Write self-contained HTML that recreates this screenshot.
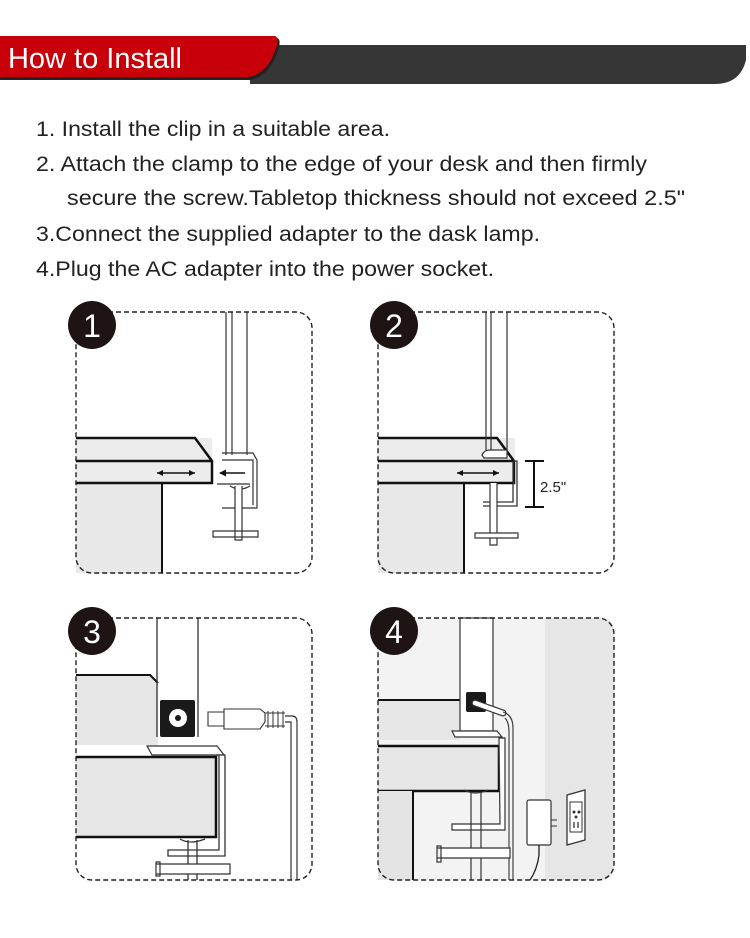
<!DOCTYPE html>
<html><head><meta charset="utf-8"><style>
html,body{margin:0;padding:0;background:#fff;width:750px;height:938px;overflow:hidden}
svg{display:block}
</style></head><body>
<svg width="750" height="938" viewBox="0 0 750 938" xmlns="http://www.w3.org/2000/svg" font-family="Liberation Sans, Arial, sans-serif">
<!-- header -->
<path d="M250 45 H746 V60 Q740 84 715 84 H250 Z" fill="#363636"/>
<path d="M0 38 H276 Q282 38 278 50 Q270 76 250 80 H0 Z" fill="#222"/>
<path d="M0 36 H274 Q280 36 276 48 Q268 74 248 77 H0 Z" fill="#c8000a"/>
<text x="8" y="68" font-size="29" fill="#fff" textLength="174" lengthAdjust="spacingAndGlyphs">How to Install</text>
<!-- instructions -->
<g font-size="21" fill="#222">
<text x="36" y="136" textLength="354" lengthAdjust="spacingAndGlyphs">1. Install the clip in a suitable area.</text>
<text x="36" y="171" textLength="611" lengthAdjust="spacingAndGlyphs">2. Attach the clamp to the edge of your desk and then firmly</text>
<text x="67" y="205" textLength="618" lengthAdjust="spacingAndGlyphs">secure the screw.Tabletop thickness should not exceed 2.5"</text>
<text x="36" y="241" textLength="504" lengthAdjust="spacingAndGlyphs">3.Connect the supplied adapter to the dask lamp.</text>
<text x="36" y="276" textLength="458" lengthAdjust="spacingAndGlyphs">4.Plug the AC adapter into the power socket.</text>
</g>

<!-- panel 1 -->
<g>
<rect x="76" y="438" width="136" height="45" fill="#ececec"/>
<rect x="76" y="483" width="86" height="90" fill="#e8e8e8"/>
<path d="M76 438 H195 L212 461 V483 H76 M76 461 H212" fill="none" stroke="#111" stroke-width="2.5"/>
<line x1="162" y1="483" x2="162" y2="573" stroke="#111" stroke-width="2"/>
<path d="M226 312 V455 M247 312 V455 M232 312 V455" stroke="#333" stroke-width="1.2" fill="none"/>
<path d="M222 453 H253 L257 460 V508 H222 M222 460 H253 V505" stroke="#333" stroke-width="1.2" fill="none"/>
<path d="M217 484 H250 M230 486 Q240 492 250 486" stroke="#333" stroke-width="1.2" fill="none"/>
<path d="M235 486 V540 H242 V486 M213 531 H258 V537 H213 Z" stroke="#333" stroke-width="1.2" fill="#fff"/>
<line x1="157" y1="473" x2="195" y2="473" stroke="#111" stroke-width="1.5"/>
<path d="M157 473 l6 -3 v6z M195 473 l-6 -3 v6z" fill="#111"/>
<line x1="220" y1="473" x2="245" y2="473" stroke="#111" stroke-width="1.5"/>
<path d="M219 473 l7 -3.5 v7z" fill="#111"/>
<rect x="76" y="312" width="236" height="261" rx="16" fill="none" stroke="#222" stroke-width="1.4" stroke-dasharray="5,3"/>
<circle cx="92" cy="325" r="24" fill="#1e1414"/>
<text x="92" y="337" font-size="32" fill="#fff" text-anchor="middle">1</text>
</g>

<!-- panel 2 -->
<g>
<rect x="378" y="438" width="137" height="45" fill="#ececec"/>
<rect x="378" y="483" width="86" height="90" fill="#e8e8e8"/>
<path d="M378 438 H497 L514 461 V483 H378 M378 461 H514" fill="none" stroke="#111" stroke-width="2.5"/>
<line x1="464" y1="483" x2="464" y2="573" stroke="#111" stroke-width="2"/>
<path d="M486 312 V455 M507 312 V455 M491 312 V455" stroke="#333" stroke-width="1.2" fill="none"/>
<path d="M482 455 Q484 450 490 450 H507 V458 H484 Z" stroke="#333" stroke-width="1.2" fill="#fff"/>
<path d="M514 461 H517 V506 H483 M513 461 V502 H483" stroke="#333" stroke-width="1.3" fill="none"/>
<path d="M490 483 V545 H497 V483" stroke="#333" stroke-width="1.2" fill="#fff"/>
<path d="M475 533 H518 V538 H475 Z" stroke="#333" stroke-width="1.2" fill="#fff"/>
<line x1="457" y1="473" x2="499" y2="473" stroke="#111" stroke-width="1.5"/>
<path d="M457 473 l6 -3 v6z M499 473 l-6 -3 v6z" fill="#111"/>
<path d="M534 461 V507 M525 461 H544 M525 507 H544" stroke="#111" stroke-width="2"/>
<text x="540" y="492" font-size="15" fill="#222">2.5"</text>
<rect x="378" y="312" width="236" height="261" rx="16" fill="none" stroke="#222" stroke-width="1.4" stroke-dasharray="5,3"/>
<circle cx="394" cy="325" r="24" fill="#1e1414"/>
<text x="394" y="337" font-size="32" fill="#fff" text-anchor="middle">2</text>
</g>

<!-- panel 3 -->
<g>
<path d="M76 675 H150 L158 683 V745 H76 Z" fill="#e6e6e6"/>
<path d="M76 675 H150 L158 683" fill="none" stroke="#111" stroke-width="2"/>
<rect x="76" y="757" width="140" height="80" fill="#e6e6e6"/>
<path d="M76 757 H216 V837 H76" fill="none" stroke="#111" stroke-width="2.5"/>
<path d="M157 618 V737 M198 618 V737" stroke="#333" stroke-width="1.3" fill="none"/>
<rect x="160" y="700" width="35" height="37" rx="2" fill="#1a1a1a"/>
<circle cx="178" cy="718" r="9" fill="#fff"/><circle cx="178" cy="718" r="3" fill="#1a1a1a"/>
<path d="M147 746 H217 L224 755 H152 Z" stroke="#333" stroke-width="1.2" fill="#fff"/>
<path d="M216 755 H225 V856 H168 V850 H219 V755" stroke="#333" stroke-width="1.3" fill="#fff"/>
<path d="M180 839 Q190 845 205 839 M188 840 V880 M197 840 V880" stroke="#333" stroke-width="1.3" fill="#fff"/>
<path d="M156 864 H230 V874 H156 Z M156 862 V876 H160 V862 Z" stroke="#333" stroke-width="1.2" fill="#fff"/>
<path d="M208 712 H224 V726 H208 Z M224 709 H260 L265 713 V722 L260 729 H224 Z" stroke="#333" stroke-width="1.1" fill="#fff"/>
<path d="M265 713 H285 M265 726 H285 M268 711 V728 M273 711 V728 M278 711 V728 M283 711 V728" stroke="#333" stroke-width="1"/>
<path d="M285 716 H292 Q297 716 297 722 V880 M285 722 H291 V880" stroke="#333" stroke-width="1.2" fill="none"/>
<rect x="76" y="618" width="236" height="262" rx="16" fill="none" stroke="#222" stroke-width="1.4" stroke-dasharray="5,3"/>
<circle cx="92" cy="631" r="24" fill="#1e1414"/>
<text x="92" y="643" font-size="32" fill="#fff" text-anchor="middle">3</text>
</g>

<!-- panel 4 -->
<g>
<path d="M378 630 Q378 618 392 618 H545 V880 H378 Z" fill="#f3f3f3"/>
<path d="M545 618 H600 Q614 618 614 632 V866 Q614 880 600 880 H545 Z" fill="#e6e6e6"/>
<rect x="378" y="700" width="82" height="40" fill="#e6e6e6"/>
<line x1="378" y1="700" x2="460" y2="700" stroke="#111" stroke-width="2"/>
<rect x="378" y="746" width="121" height="45" fill="#e6e6e6"/>
<path d="M378 746 H499 V791 H378" fill="none" stroke="#111" stroke-width="2.5"/>
<rect x="378" y="791" width="35" height="89" fill="#e4e4e4"/>
<line x1="413" y1="791" x2="413" y2="880" stroke="#111" stroke-width="2"/>
<rect x="460" y="618" width="33" height="113" fill="#fff" stroke="#333" stroke-width="1.2"/>
<rect x="466" y="692" width="20" height="20" rx="2" fill="#1a1a1a"/>
<path d="M475 703 L503 713" stroke="#333" stroke-width="7" stroke-linecap="round"/>
<path d="M475 703 L503 713" stroke="#fff" stroke-width="4.5" stroke-linecap="round"/>
<path d="M503 712 Q513 715 513 728 V880 M505 718 Q509 722 509 732 V880" stroke="#333" stroke-width="1.1" fill="none"/>
<path d="M452 731 H497 L502 737 H455 Z" stroke="#333" stroke-width="1.2" fill="#fff"/>
<path d="M499 738 H505 V830 H452 V824 H500 Z" stroke="#333" stroke-width="1.2" fill="#fff"/>
<path d="M465 790 Q475 796 488 790 M471 792 V880 M481 792 V880" stroke="#333" stroke-width="1.2" fill="none"/>
<path d="M437 848 H510 V858 H437 Z M437 846 V862 H441 V846 Z" stroke="#333" stroke-width="1.2" fill="#fff"/>
<rect x="527" y="800" width="24" height="45" rx="2" fill="#fff" stroke="#333" stroke-width="1.2"/>
<path d="M551 820 H557 M551 826 H557" stroke="#333" stroke-width="1"/>
<path d="M539 845 V855 Q537 870 530 880" stroke="#222" stroke-width="1.3" fill="none"/>
<path d="M567 795 L585 790 V840 L567 845 Z" fill="#fff" stroke="#333" stroke-width="1.3"/>
<rect x="570" y="802" width="12" height="30" fill="#fff" stroke="#333" stroke-width="1"/>
<circle cx="574" cy="812" r="1.5" fill="#333"/><circle cx="579" cy="812" r="1.5" fill="#333"/><circle cx="576" cy="817" r="1.5" fill="#333"/>
<path d="M574 822 V828 M578 822 V828" stroke="#333" stroke-width="1.3"/>
<rect x="378" y="618" width="236" height="262" rx="16" fill="none" stroke="#222" stroke-width="1.4" stroke-dasharray="5,3"/>
<circle cx="394" cy="631" r="24" fill="#1e1414"/>
<text x="394" y="643" font-size="32" fill="#fff" text-anchor="middle">4</text>
</g>
</svg>
</body></html>
